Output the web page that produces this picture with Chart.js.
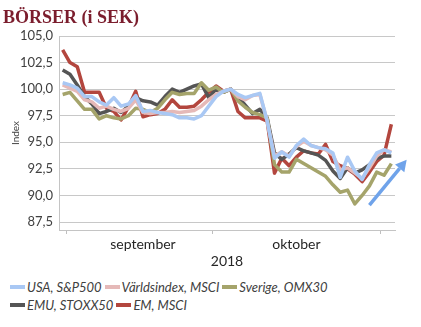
<!DOCTYPE html>
<html>
<head>
<meta charset="utf-8">
<script src="https://cdn.jsdelivr.net/npm/chart.js@4"></script>
<style>
  html, body { margin: 0; padding: 0; background: #fff; }
  #wrap { position: relative; width: 421px; height: 327px; overflow: hidden; }
  #title { position: absolute; left: 3px; top: 7px; font: bold 18px "Liberation Serif", "Times New Roman", serif; color: #7b1d2d; line-height: 20px; white-space: nowrap; }
  #box { position: absolute; left: 0; top: 0; width: 421px; height: 272px; }
  #legend { position: absolute; left: 10px; top: 278px; width: 405px; font: italic 13px Lato, sans-serif; color: #404040; }
  .row { display: flex; align-items: center; height: 18px; white-space: nowrap; }
  .item { display: flex; align-items: center; margin-right: 3px; }
  .sw { width: 15px; height: 4px; margin-right: 2px; }
</style>
</head>
<body>
<div id="wrap">
  <div id="box"><canvas id="borser"></canvas></div>
  <div id="title">BÖRSER (i SEK)</div>
  <div id="legend"></div>
</div>
<script>
// handelsdagar: sista aug, september, oktober, början av nov
const monthLabels = ['', 'september', 'oktober', ''];
const daysPerMonth = [1, 20, 23, 2];
const yTicks = [87.5, 90, 92.5, 95, 97.5, 100, 102.5, 105];

const usa = [100.6, 100.4, 100.1, 99.3, 99.3, 98.8, 98.5, 99.2, 98.4, 98.6,
  99.4, 97.9, 98.0, 97.8, 97.7, 97.6, 97.3, 97.3, 97.2, 97.5,
  98.4, 99.3, 99.8, 100.0, 99.5, 99.2, 99.4, 99.6, 97.0, 93.5,
  94.1, 93.6, 94.7, 95.3, 94.7, 94.5, 94.4, 94.0, 91.7, 93.6,
  92.3, 91.5, 92.9, 94.0, 94.3, 94.0];
const varlden = [100.4, 100.1, 99.8, 99.0, 98.8, 98.2, 98.4, 98.1, 97.9, 98.2,
  99.0, 97.8, 97.7, 97.8, 97.8, 97.9, 97.8, 97.9, 98.0, 98.4,
  99.0, 99.5, 99.8, 100.0, 99.3, 99.0, 99.4, 99.5, 97.0, 93.7,
  94.1, 93.7, 94.6, 95.1, 94.7, 94.5, 94.3, 93.8, 92.4, 92.6,
  92.1, 91.6, 92.6, 93.7, 94.3, 94.1];
const sverige = [99.5, 99.7, 98.9, 98.1, 98.1, 97.2, 97.5, 97.3, 97.2, 97.5,
  98.2, 98.1, 97.8, 98.2, 99.0, 99.7, 99.5, 99.6, 99.6, 100.6,
  99.9, 100.2, 99.7, 100.0, 98.9, 98.3, 97.8, 97.6, 97.3, 92.9,
  92.2, 92.2, 93.4, 93.0, 92.6, 92.2, 91.8, 91.0, 90.3, 90.5,
  89.2, 90.0, 90.9, 92.2, 91.9, 93.0];
const emu = [101.8, 101.4, 100.4, 99.3, 98.6, 97.7, 97.9, 98.2, 97.8, 98.4,
  99.2, 98.9, 98.8, 98.5, 99.3, 100.0, 99.7, 100.0, 100.3, 100.5,
  99.2, 100.0, 99.7, 100.0, 99.3, 98.5, 97.7, 98.1, 97.3, 94.0,
  93.4, 93.9, 94.5, 94.2, 94.0, 93.8, 93.3, 92.3, 91.6, 92.6,
  92.1, 92.4, 92.9, 93.5, 93.7, 93.7];
const em = [103.7, 102.5, 102.1, 99.7, 99.7, 99.7, 98.2, 97.9, 97.1, 98.3,
  99.8, 97.4, 97.6, 97.7, 98.1, 99.0, 98.3, 98.3, 98.4, 99.0,
  99.7, 100.3, 99.8, 100.0, 97.9, 97.3, 97.3, 97.3, 97.0, 92.1,
  93.5, 92.8, 93.6, 94.2, 94.0, 93.9, 94.8, 93.2, 92.8, 92.5,
  92.0, 91.3, 92.2, 93.2, 93.8, 96.7];

const seriesNames = ['USA, S&P500', 'Världsindex, MSCI', 'Sverige, OMX30', 'EMU, STOXX50', 'EM, MSCI'];
const seriesColors = ['#a9c8f4', '#e5b9b8', '#a5a46b', '#555555', '#b3463e'];
const seriesData = [usa, varlden, sverige, emu, em];

// pil (i dataenheter: kategoriindex, indexvärde)
const arrowFrom = [42.0, 89.1];
const arrowTo = [47.1, 93.35];

// kategorier per handelsdag + var månadsnamnet ska stå
const categories = [];
const labelAt = {};
const boundaries = [];
daysPerMonth.forEach((n, m) => {
  if (m > 0) boundaries.push(categories.length);
  labelAt[categories.length + Math.floor(n / 2)] = monthLabels[m];
  for (let d = 0; d < n; d++) categories.push(monthLabels[m]);
});

const arrowPlugin = {
  id: 'trendArrow',
  afterDraw(chart) {
    const { ctx, scales: { x, y } } = chart;
    const x0 = x.getPixelForValue(arrowFrom[0]), y0 = y.getPixelForValue(arrowFrom[1]);
    const x1 = x.getPixelForValue(arrowTo[0]), y1 = y.getPixelForValue(arrowTo[1]);
    const a = Math.atan2(y1 - y0, x1 - x0);
    const head = 11, half = 6;
    const bx = x1 - head * Math.cos(a), by = y1 - head * Math.sin(a);
    ctx.save();
    ctx.strokeStyle = '#6fa3ea';
    ctx.fillStyle = '#6fa3ea';
    ctx.lineWidth = 3.5;
    ctx.beginPath();
    ctx.moveTo(x0, y0);
    ctx.lineTo(bx, by);
    ctx.stroke();
    ctx.beginPath();
    ctx.moveTo(x1, y1);
    ctx.lineTo(bx + half * Math.sin(a), by - half * Math.cos(a));
    ctx.lineTo(bx - half * Math.sin(a), by + half * Math.cos(a));
    ctx.closePath();
    ctx.fill();
    ctx.restore();
  }
};

new Chart(document.getElementById('borser'), {
  type: 'line',
  data: {
    labels: categories,
    datasets: seriesData.map((d, i) => ({
      label: seriesNames[i],
      data: d,
      borderColor: seriesColors[i],
      backgroundColor: seriesColors[i],
      borderWidth: 3.5,
      borderJoinStyle: 'round',
      pointRadius: 0,
      tension: 0,
      fill: false
    }))
  },
  options: {
    responsive: true,
    maintainAspectRatio: false,
    animation: false,
    layout: { padding: { top: 36, right: 26, left: 0, bottom: 0 } },
    plugins: { legend: { display: false }, tooltip: { enabled: false } },
    scales: {
      x: {
        offset: true,
        afterFit(s) { s.height = 42; },
        grid: {
          offset: true,
          drawOnChartArea: false,
          tickLength: 4,
          color: c => (c.index !== undefined && boundaries.includes(c.index)) ? '#bfbfbf' : 'rgba(0,0,0,0)'
        },
        border: { color: '#c4c4c4' },
        ticks: {
          autoSkip: false,
          maxRotation: 0,
          padding: 2,
          color: '#262626',
          font: { family: 'Lato', size: 14 },
          callback: (v, i) => labelAt[i] || ''
        },
        title: { display: true, text: '2018', color: '#262626', font: { family: 'Lato', size: 14 }, padding: { top: 0, bottom: 2 } }
      },
      y: {
        min: 86.75,
        max: 105,
        afterFit(s) { s.width = 59; },
        afterBuildTicks(s) { s.ticks = yTicks.map(v => ({ value: v })); },
        grid: { color: '#c8c8c8', lineWidth: 1, drawTicks: false },
        border: { color: '#c4c4c4' },
        ticks: {
          padding: 6,
          color: '#404040',
          font: { family: 'Lato', size: 13 },
          callback: v => v.toFixed(1).replace('.', ',')
        },
        title: { display: true, text: 'Index', color: '#404040', font: { family: 'Lato', size: 10 }, padding: { top: 10, bottom: 0 } }
      }
    }
  },
  plugins: [arrowPlugin]
});

// förklaring i två rader som i originalet
const legend = document.getElementById('legend');
[[0, 1, 2], [3, 4]].forEach(rowIdx => {
  const row = document.createElement('div');
  row.className = 'row';
  rowIdx.forEach(i => {
    const item = document.createElement('span');
    item.className = 'item';
    item.innerHTML = '<span class="sw" style="background:' + seriesColors[i] + '"></span>';
    item.appendChild(document.createTextNode(seriesNames[i]));
    row.appendChild(item);
  });
  legend.appendChild(row);
});
</script>
</body>
</html>
